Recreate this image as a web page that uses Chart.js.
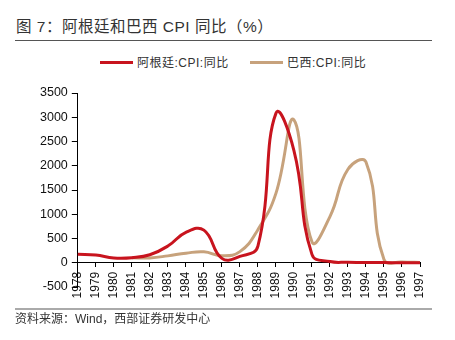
<!DOCTYPE html>
<html>
<head>
<meta charset="utf-8">
<script src="https://cdn.jsdelivr.net/npm/chart.js@4"></script>
<style>
  body { margin: 0; background: #fff; }
  .wrap { position: relative; width: 455px; height: 340px; font-family: "Liberation Sans", "Noto Sans CJK SC", sans-serif; color: #333; }
  .title { position: absolute; left: 16px; top: 17px; font-size: 15.5px; line-height: 20px; letter-spacing: 0.5px; white-space: nowrap; }
  .rule-top { position: absolute; left: 15px; top: 40px; width: 417px; height: 1px; background: #555; }
  .rule-bottom { position: absolute; left: 15px; top: 308px; width: 417px; height: 2px; background: #aaa; }
  .source { position: absolute; left: 15px; top: 311px; font-size: 12px; line-height: 16px; white-space: nowrap; }
  .legend { position: absolute; top: 55px; font-size: 12px; line-height: 16px; letter-spacing: 0.5px; white-space: nowrap; }
  .legend i { display: inline-block; width: 33px; height: 3px; vertical-align: middle; margin-right: 4px; position: relative; top: -1px; }
  canvas { position: absolute; left: 0; top: 0; }
</style>
</head>
<body>
<div class="wrap">
  <div class="title">图 7：阿根廷和巴西 CPI 同比（%）</div>
  <div class="rule-top"></div>
  <div class="legend" style="left:100px"><i style="background:#C8141E"></i>阿根廷:CPI:同比</div>
  <div class="legend" style="left:250px"><i style="background:#C7A27C"></i>巴西:CPI:同比</div>
  <canvas id="chart" width="455" height="340"></canvas>
  <div class="rule-bottom"></div>
  <div class="source">资料来源：Wind，西部证券研发中心</div>
</div>
<script>
const years = ['1978', '1979', '1980', '1981', '1982', '1983', '1984', '1985', '1986', '1987',
  '1988', '1989', '1990', '1991', '1992', '1993', '1994', '1995', '1996', '1997'];
const argentina = [175, 160, 100, 105, 164, 344, 627, 672, 90, 131,
  343, 3080, 2314, 172, 25, 11, 4, 3, 0, 1];
const brazil = [null, null, null, 101, 100, 142, 197, 227, 145, 229,
  682, 1430, 2947, 432, 952, 1928, 2076, 66, 16, 7];

const RED = '#C8141E';
const TAN = '#C7A27C';

const ctx = document.getElementById('chart');

const config = {
  type: 'line',
  data: {
    labels: years,
    datasets: [{
      label: '阿根廷:CPI:同比',
      data: argentina,
      borderColor: RED,
      borderWidth: 3,
      pointRadius: 0,
      tension: 0.45,
      fill: false,
    }, {
      label: '巴西:CPI:同比',
      data: brazil,
      borderColor: TAN,
      borderWidth: 3,
      pointRadius: 0,
      tension: 0.45,
      fill: false,
    }]
  },
  options: {
    responsive: false,
    animation: false,
    layout: {
      padding: {left: 36, right: 35, top: 93, bottom: 53},
    },
    plugins: {
      legend: {display: false},
      tooltip: {enabled: false},
    },
    scales: {
      x: {
        type: 'category',
        position: {y: 0},
        offset: false,
        grid: {drawOnChartArea: false, offset: false, tickLength: 4, color: '#000'},
        border: {color: '#000', width: 1},
        ticks: {
          autoSkip: false,
          minRotation: 90,
          maxRotation: 90,
          padding: 5,
          color: '#111',
          font: {family: 'Liberation Sans', size: 12},
        },
      },
      y: {
        min: -500,
        max: 3500,
        grid: {drawOnChartArea: false, tickLength: 6, color: '#000'},
        border: {color: '#000', width: 1},
        ticks: {
          stepSize: 500,
          padding: 4,
          color: '#111',
          font: {family: 'Liberation Sans', size: 12.5},
          callback: (v) => String(v),
        },
      },
    },
  },
};

const chart = new Chart(ctx, config);
</script>
</body>
</html>
